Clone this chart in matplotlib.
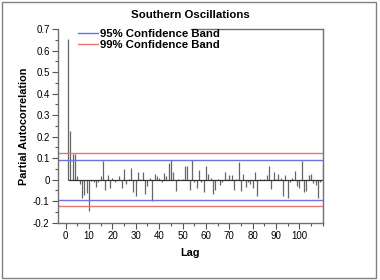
import numpy as np
import matplotlib
matplotlib.use('Agg')
import matplotlib.pyplot as plt
from matplotlib.patches import Rectangle

plt.rcParams['font.family'] = ['Liberation Sans', 'DejaVu Sans']

lags = np.arange(1, 111)
pacf = [
    0.652, 0.226, 0.120, 0.120, 0.019, -0.019, -0.085, -0.071, -0.062, -0.146,
    -0.005, -0.009, -0.034, -0.012, 0.015, 0.088, -0.047, 0.022, -0.040, 0.006,
    -0.009, -0.003, 0.015, -0.037, 0.050, -0.022, 0.002, 0.056, -0.056, -0.074,
    0.034, 0.003, 0.034, -0.068, -0.031, 0.010, -0.099, 0.028, 0.016, 0.010,
    -0.012, 0.031, 0.019, 0.078, 0.093, 0.037, -0.053, 0.002, -0.003, 0.002,
    0.065, 0.065, -0.050, 0.093, -0.012, -0.040, 0.043, -0.009, -0.056, 0.065,
    0.025, 0.006, -0.068, -0.047, 0.002, -0.025, -0.012, 0.037, 0.003, 0.022,
    0.022, -0.047, 0.002, 0.084, -0.053, 0.028, -0.034, -0.012, -0.019, -0.037,
    0.037, -0.074, 0.004, -0.003, 0.003, 0.022, 0.062, -0.043, 0.037, 0.004,
    0.025, 0.009, -0.078, 0.020, -0.084, -0.009, 0.009, 0.040, -0.031, -0.040,
    0.087, -0.058, -0.052, 0.020, 0.025, -0.016, -0.025, -0.086, -0.009, 0.068,
]
band95 = 0.093
band99 = 0.122

fig = plt.figure(figsize=(3.8, 2.8), dpi=100)
ax = fig.add_axes([0.1526, 0.2046, 0.6974, 0.6914])

ax.vlines(lags, 0, pacf, color='#666666', linewidth=0.9)
ax.hlines(0, lags[0], lags[-1], color='#333333', linewidth=0.9)

ax.axhline(band95, color='#6f6fe6', linewidth=1.0, label='95% Confidence Band')
ax.axhline(band99, color='#e87474', linewidth=1.0, label='99% Confidence Band')
ax.axhline(-band95, color='#6f6fe6', linewidth=1.0)
ax.axhline(-band99, color='#e87474', linewidth=1.0)

ax.set_xlim(-3.3, 110.1)
ax.set_ylim(-0.2, 0.7)
ax.set_xticks(np.arange(0, 101, 10))
ax.set_xticks(np.arange(0, 111, 5), minor=True)
ax.set_yticks(np.arange(-0.2, 0.71, 0.1))
ax.set_yticks(np.arange(-0.2, 0.71, 0.05), minor=True)
ax.set_yticklabels(['-0.2', '-0.1', '0', '0.1', '0.2', '0.3', '0.4', '0.5', '0.6', '0.7'])
ax.tick_params(axis='both', which='major', direction='out', length=4, width=0.8,
               color='#555555', labelsize=7, pad=2)
ax.tick_params(axis='both', which='minor', direction='out', length=2.5, width=0.8,
               color='#555555')
for s in ax.spines.values():
    s.set_color('#707070')
    s.set_linewidth(1.0)
ax.spines['top'].set_bounds(53.5, 110.1)

ax.set_title('Southern Oscillations', fontsize=8.2, fontweight='bold', pad=8)
ax.set_xlabel('Lag', fontsize=7.8, fontweight='bold', labelpad=5)
ax.set_ylabel('Partial Autocorrelation', fontsize=7.8, fontweight='bold', labelpad=3)

leg = ax.legend(loc='upper left', bbox_to_anchor=(0.06, 1.025), frameon=False,
                fontsize=8.2, handlelength=1.7, handletextpad=0.2, labelspacing=0.08,
                borderaxespad=0)
for t in leg.get_texts():
    t.set_fontweight('bold')

fig.patches.append(Rectangle((0.004, 0.008), 0.986, 0.986, transform=fig.transFigure,
                             fill=False, edgecolor='#808080', linewidth=1.0))

fig.savefig('out.png', dpi=100)
